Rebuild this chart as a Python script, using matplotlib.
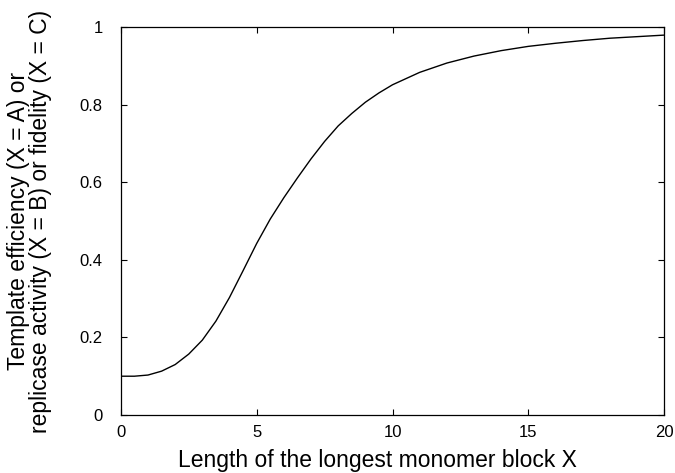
import matplotlib
matplotlib.use("Agg")
import matplotlib.pyplot as plt

# valeurs
longueur = [0, 0.5, 1, 1.5, 2, 2.5, 3, 3.5, 4, 4.5, 5, 5.5, 6, 6.5, 7, 7.5,
            8, 8.5, 9, 9.5, 10, 11, 12, 13, 14, 15, 16, 17, 18, 19, 20]
efficacite = [0.100, 0.100, 0.103, 0.113, 0.130, 0.157, 0.193, 0.242, 0.303,
              0.372, 0.442, 0.505, 0.560, 0.611, 0.660, 0.705, 0.745, 0.777,
              0.806, 0.830, 0.851, 0.883, 0.907, 0.925, 0.939, 0.950, 0.958,
              0.965, 0.971, 0.975, 0.979]

xticks = [0, 5, 10, 15, 20]
yticks = [0, 0.2, 0.4, 0.6, 0.8, 1]
ytick_labels = ["0", "0.2", "0.4", "0.6", "0.8", "1"]

plt.rcParams['font.family'] = ['Liberation Sans', 'DejaVu Sans']

fig = plt.figure(figsize=(6.75, 4.73), dpi=100)
ax = fig.add_axes([0.179, 0.1226, 0.805, 0.8204])

ax.plot(longueur, efficacite, color='black', linewidth=1.0)

ax.set_xlim(0, 20)
ax.set_ylim(0, 1)
ax.set_xticks(xticks)
ax.set_xticklabels([str(t) for t in xticks])
ax.set_yticks(yticks)
ax.set_yticklabels(ytick_labels)

ax.tick_params(direction='in', length=4.3, width=0.8, top=True, right=True,
               labelsize=12)
ax.tick_params(axis='x', pad=7)
ax.tick_params(axis='y', pad=13)
for s in ax.spines.values():
    s.set_linewidth(0.9)

ax.set_xlabel("Length of the longest monomer block X", fontsize=16.5, labelpad=7)
ax.xaxis.label.set_x(0.472)
ax.set_ylabel("Template efficiency (X = A) or\nreplicase activity (X = B) or fidelity (X = C)",
              fontsize=16.5, multialignment='center', labelpad=20, linespacing=0.95)

fig.savefig("out.png", dpi=100)
